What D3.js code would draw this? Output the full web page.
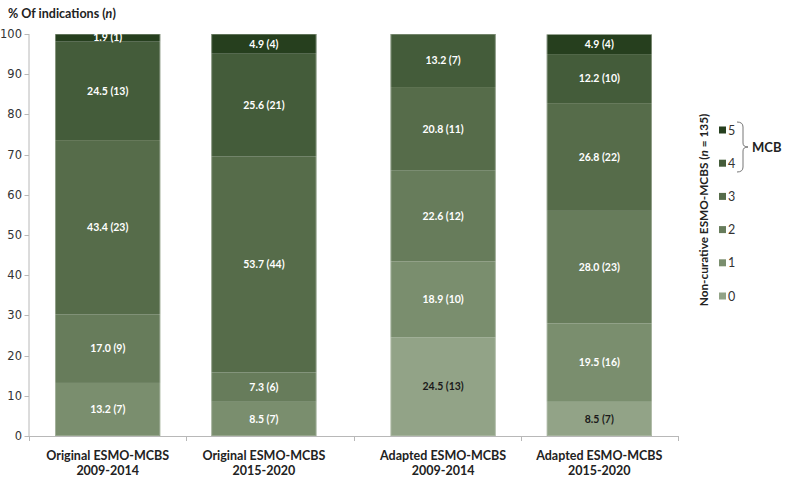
<!DOCTYPE html>
<html>
<head>
<meta charset="utf-8">
<script src="https://cdn.jsdelivr.net/npm/d3@7/dist/d3.min.js"></script>
<style>
  body { margin: 0; background: #fff; }
  svg { display: block; }
  text { font-family: Lato, "Open Sans", sans-serif; }
</style>
</head>
<body>
<svg id="chart" width="787" height="478"></svg>
<script>
// ---- data ----
const groups = ["Original", "Adapted"];
const periods = ["2009-2014", "2015-2020"];
const barLabels = [
  ["Original ESMO-MCBS", "2009-2014"],
  ["Original ESMO-MCBS", "2015-2020"],
  ["Adapted ESMO-MCBS", "2009-2014"],
  ["Adapted ESMO-MCBS", "2015-2020"]
];
const levels = ["0", "1", "2", "3", "4", "5"];
// percentages per MCB level, one value per bar (Orig 09-14, Orig 15-20, Adapt 09-14, Adapt 15-20)
const pct0 = [0, 0, 24.5, 8.5];
const pct1 = [13.2, 8.5, 18.9, 19.5];
const pct2 = [17.0, 7.3, 22.6, 28.0];
const pct3 = [43.4, 53.7, 20.8, 26.8];
const pct4 = [24.5, 25.6, 13.2, 12.2];
const pct5 = [1.9, 4.9, 0, 4.9];
// counts (n)
const n0 = [0, 0, 13, 7];
const n1 = [7, 7, 10, 16];
const n2 = [9, 6, 12, 23];
const n3 = [23, 44, 11, 22];
const n4 = [13, 21, 7, 10];
const n5 = [1, 4, 0, 4];
const yTicks = [0, 10, 20, 30, 40, 50, 60, 70, 80, 90, 100];
const colors = ["#92a387", "#7a8e6e", "#677c5b", "#566c4a", "#445c3a", "#263f1e"];

const pctSeries = [pct0, pct1, pct2, pct3, pct4, pct5];
const nSeries = [n0, n1, n2, n3, n4, n5];

const rows = barLabels.map((lab, i) => {
  const r = { idx: i, group: groups[Math.floor(i / 2)], period: periods[i % 2] };
  levels.forEach((l, k) => { r[l] = pctSeries[k][i]; r["n" + l] = nSeries[k][i]; });
  return r;
});

// ---- layout ----
const svg = d3.select("#chart");
const plot = { left: 29, right: 678, top: 34, bottom: 436 };

const y = d3.scaleLinear().domain([0, 100]).range([plot.bottom, plot.top]);
const x0 = d3.scaleBand().domain(groups).range([plot.left, plot.right])
  .paddingInner(0.221).paddingOuter(0.078);
const x1 = d3.scaleBand().domain(periods).range([0, x0.bandwidth()])
  .paddingInner(0.327).paddingOuter(0);
const barX = d => x0(d.group) + x1(d.period);
const bw = x1.bandwidth();

const stack = d3.stack().keys(levels);
const stacked = stack(rows);

// ---- y axis ----
const axisColor = "#b8b8b8";
svg.append("line").attr("x1", plot.left).attr("x2", plot.left)
  .attr("y1", y(100)).attr("y2", y(0)).attr("stroke", axisColor).attr("stroke-width", 1);
const yt = svg.append("g");
yt.selectAll("line").data(yTicks).join("line")
  .attr("x1", plot.left - 4.5).attr("x2", plot.left)
  .attr("y1", d => Math.round(y(d)) + 0.5).attr("y2", d => Math.round(y(d)) + 0.5)
  .attr("stroke", axisColor);
yt.selectAll("text").data(yTicks).join("text")
  .attr("x", 22).attr("y", d => y(d)).attr("dy", "0.35em")
  .attr("text-anchor", "end").attr("fill", "#333")
  .style("font-family", "'DejaVu Sans', sans-serif").style("font-size", "11.5px")
  .text(d => d);

// y axis title
const yTitle = svg.append("text").attr("x", 8).attr("y", 18)
  .attr("font-size", 12.5).attr("font-weight", "bold").attr("fill", "#222");
yTitle.append("tspan").text("% Of indications (");
yTitle.append("tspan").attr("font-style", "italic").text("n");
yTitle.append("tspan").text(")");

// ---- bars ----
const layers = svg.append("g").selectAll("g").data(stacked).join("g")
  .attr("fill", (d, i) => colors[i]);
layers.selectAll("rect").data(d => d.map(s => ({ s, key: d.key })))
  .join("rect")
  .attr("x", d => barX(d.s.data))
  .attr("width", bw)
  .attr("y", d => y(d.s[1]))
  .attr("height", d => Math.max(0, y(d.s[0]) - y(d.s[1])));

// outlines
svg.append("g").selectAll("rect").data(rows).join("rect")
  .attr("x", d => barX(d) + 0.5).attr("width", bw - 1)
  .attr("y", y(100) + 0.5).attr("height", y(0) - y(100) - 1)
  .attr("fill", "none").attr("stroke", "#c9d0c4").attr("stroke-width", 0.6).attr("stroke-opacity", 0.6);

// segment labels
const labG = svg.append("g");
stacked.forEach((layer, k) => {
  layer.forEach(s => {
    const v = s[1] - s[0];
    if (v <= 0) return;
    const nn = s.data["n" + layer.key];
    labG.append("text")
      .attr("x", barX(s.data) + bw / 2)
      .attr("y", y((s[0] + s[1]) / 2))
      .attr("dy", "0.35em")
      .attr("text-anchor", "middle")
      .attr("font-size", 10.5).attr("font-weight", "bold")
      .attr("fill", layer.key === "0" ? "#1a1a1a" : "#ffffff")
      .text(v.toFixed(1) + " (" + nn + ")");
  });
});

// ---- x axis ----
svg.append("line").attr("x1", plot.left).attr("x2", plot.right)
  .attr("y1", y(0) + 0.5).attr("y2", y(0) + 0.5).attr("stroke", axisColor);
// tick marks at ends and between bars
const bounds = [plot.left];
for (let i = 0; i < rows.length - 1; i++) {
  bounds.push((barX(rows[i]) + bw + barX(rows[i + 1])) / 2);
}
bounds.push(plot.right);
svg.append("g").selectAll("line").data(bounds).join("line")
  .attr("x1", d => Math.round(d) + 0.5).attr("x2", d => Math.round(d) + 0.5)
  .attr("y1", y(0)).attr("y2", y(0) + 5).attr("stroke", axisColor);

const xl = svg.append("g").selectAll("text").data(rows).join("text")
  .attr("x", d => barX(d) + bw / 2).attr("y", 460)
  .attr("text-anchor", "middle").attr("font-size", 12.5).attr("font-weight", "bold").attr("fill", "#222");
xl.append("tspan").text(d => barLabels[d.idx][0]);
xl.append("tspan").attr("x", d => barX(d) + bw / 2).attr("dy", 14.5).text(d => barLabels[d.idx][1]);

// ---- legend ----
const legTop = 130, legStep = 33.2;
const leg = svg.append("g");
const legLevels = levels.slice().reverse();
legLevels.forEach((l, i) => {
  const cy = legTop + i * legStep;
  leg.append("rect").attr("x", 719).attr("y", cy - 3.5).attr("width", 7).attr("height", 7)
    .attr("fill", colors[+l]);
  leg.append("text").attr("x", 728).attr("y", cy).attr("dy", "0.36em")
    .attr("font-size", 12.5).attr("fill", "#333").text(l);
});
// rotated legend title
const lt = svg.append("text")
  .attr("transform", "translate(708,210) rotate(-90)")
  .attr("text-anchor", "middle").attr("font-size", 11.8).attr("font-weight", "bold").attr("fill", "#222");
lt.append("tspan").text("Non-curative ESMO-MCBS (");
lt.append("tspan").attr("font-style", "italic").text("n");
lt.append("tspan").text(" = 135)");

// bracket
const bTop = 122, bBot = 172, bMid = 147, bx = 743;
svg.append("path")
  .attr("d", `M737,${bTop} Q${bx},${bTop} ${bx},${bTop + 5} L${bx},${bMid - 4} Q${bx},${bMid} ${bx + 5},${bMid} Q${bx},${bMid} ${bx},${bMid + 4} L${bx},${bBot - 5} Q${bx},${bBot} 737,${bBot}`)
  .attr("fill", "none").attr("stroke", "#666").attr("stroke-width", 0.9);
svg.append("text").attr("x", 752).attr("y", bMid).attr("dy", "0.36em")
  .attr("font-size", 13).attr("font-weight", "bold").attr("fill", "#222").text("MCB");
</script>
</body>
</html>
